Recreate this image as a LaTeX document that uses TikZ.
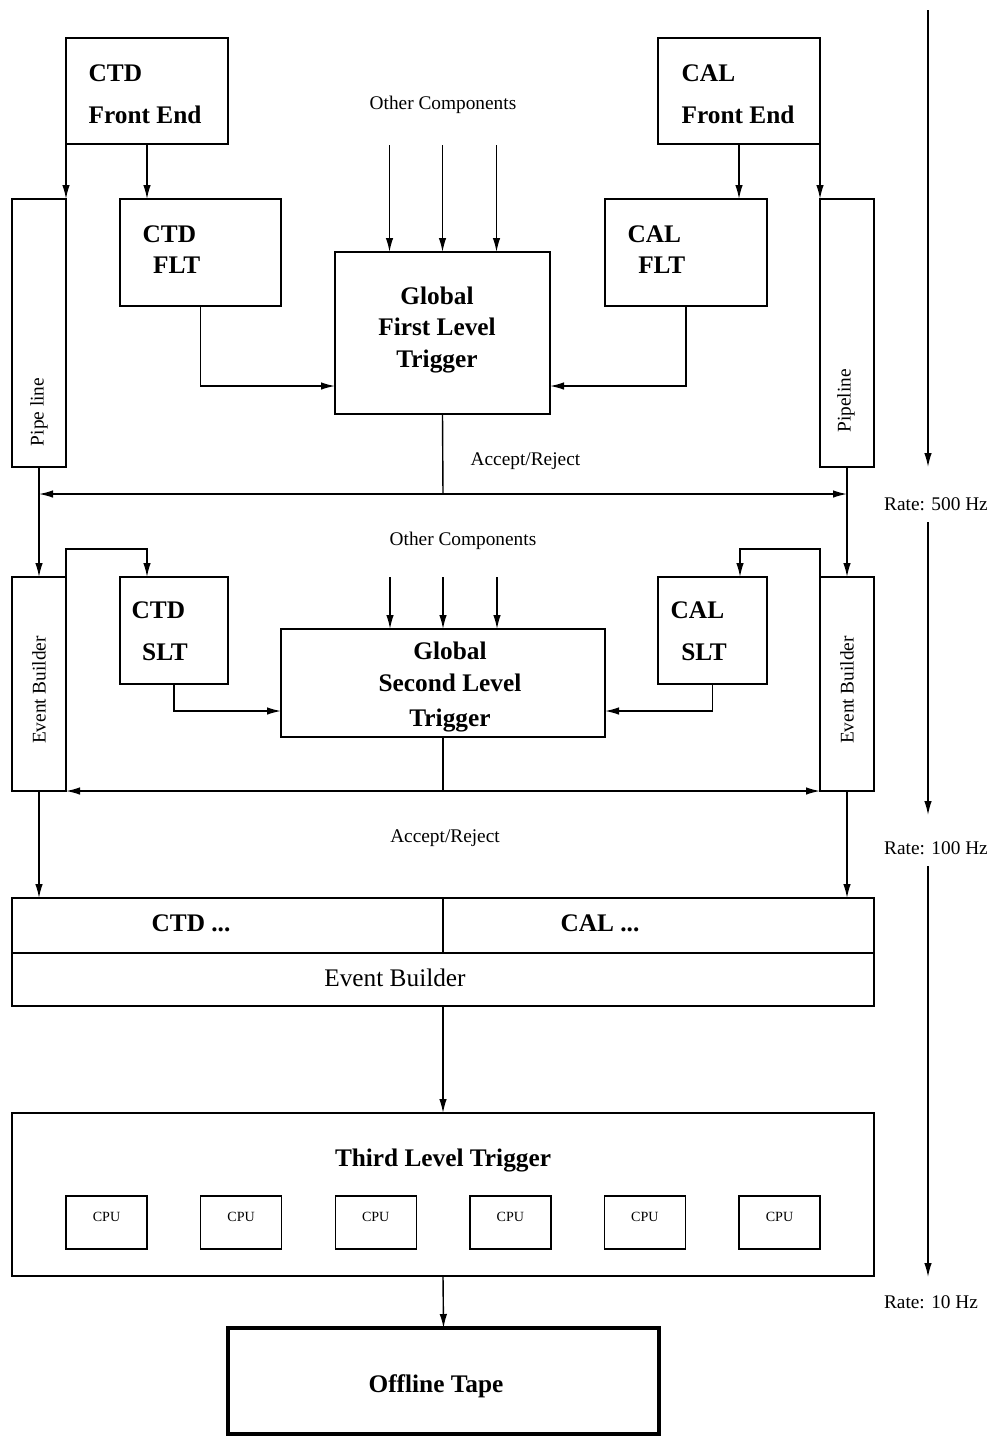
\documentclass[tikz,border=0pt]{standalone}
\usepackage{fontspec}
\setmainfont{Liberation Serif}
\usepackage{tikz}
\usetikzlibrary{arrows.meta,positioning,calc}

\begin{document}
\begin{tikzpicture}[x=0.2mm,y=-0.2mm,line width=.8pt,>={Latex[length=2.8mm,width=1.5mm]},
  bx/.style 2 args={draw,inner sep=0pt,outer sep=0pt,minimum width=#1*0.2mm,minimum height=#2*0.2mm},
  hd/.style={font=\fontsize{14.4}{18}\selectfont\bfseries,align=left,inner sep=0pt},
  lab/.style={font=\fontsize{11}{13}\selectfont,inner sep=0pt}]
\useasboundingbox (0,0) rectangle (995,1436);
% first level
\node[bx={162}{106}] (ctdfe) at (147,91) {};
\node[hd,anchor=west] (ctdfet) at (88,94) {CTD\\[6pt]Front End};
\node[bx={162}{106}] (calfe) at (739,91) {};
\node[hd,anchor=west] (calfet) at (681,94) {CAL\\[6pt]Front End};
\node[bx={161}{107}] (ctdflt) at (200.5,252.5) {};
\node[hd,anchor=west] (ctdfltt) at (142,249.5) {CTD\\\hspace{6pt}FLT};
\node[bx={162}{107}] (calflt) at (686,252.5) {};
\node[hd,anchor=west] (calfltt) at (627,249.5) {CAL\\\hspace{6pt}FLT};
\node[bx={54}{268}] (pipel) at (39,333) {};
\node[lab,rotate=90] (pipelt) at (39,412) {Pipe line};
\node[bx={54}{268}] (piper) at (847,333) {};
\node[lab,rotate=90] (pipert) at (846,401) {Pipeline};
\node[bx={215}{162}] (gflt) at (442.5,333) {};
\node[hd,align=center] (gfltt) at (437,330) {Global\\First Level\\Trigger};
\node[lab] (oc1) at (443,105) {Other Components};
\foreach \dx in {-53,0,54}\draw[->] ($(gflt.north)+(\dx,-107)$)--($(gflt.north)+(\dx,0)$);
\draw[->] (ctdfe.south west)--(pipel.north east);
\draw[->] (ctdfe.south)--(ctdfe.south |- ctdflt.north);
\draw[->] (calfe.south east)--(piper.north west);
\draw[->] (calfe.south)--(calfe.south |- calflt.north);
\draw[->] (ctdflt.south) |- ($(gflt.south west)+(0,-28)$);
\draw[->] (calflt.south) |- ($(gflt.south east)+(0,-28)$);
\coordinate (ar1) at (443,494);
\node[lab,anchor=west] (acc1) at (470,461) {Accept/Reject};
\draw (gflt.south)--(ar1);
\draw[->] (ar1)--(pipel.south |- ar1);
\draw[->] (ar1)--(piper.south |- ar1);
% second level
\node[bx={54}{214}] (ebl) at (39,684) {};
\node[lab,rotate=90] (eblt) at (39,690) {Event Builder};
\node[bx={54}{214}] (ebr) at (847,684) {};
\node[lab,rotate=90] (ebrt) at (847,690) {Event Builder};
\draw[->] (pipel.south)--(ebl.north);
\draw[->] (piper.south)--(ebr.north);
\node[bx={108}{107}] (ctdslt) at (174,630.5) {};
\node[hd,anchor=west] (ctdsltt) at (131,631.5) {CTD\\[6pt]\hspace{6pt}SLT};
\node[bx={109}{107}] (calslt) at (712.5,630.5) {};
\node[hd,anchor=west] (calsltt) at (670,631.5) {CAL\\[6pt]\hspace{6pt}SLT};
\node[bx={324}{108}] (gslt) at (443,683) {};
\node[hd,align=center] (gsltt) at (450,687) {Global\\Second Level\\[2pt]Trigger};
\node[lab] (oc2) at (463,541) {Other Components};
\foreach \dx in {-53,0,54}\draw[->] ($(gslt.north)+(\dx,-52)$)--($(gslt.north)+(\dx,0)$);
\draw[->] (ebl.north east)--++(0,-28)-|($(ctdslt.north west)+(27,0)$);
\draw[->] (ebr.north west)--++(0,-28)-|($(calslt.north east)+(-27,0)$);
\draw[->] (ctdslt.south) |- ($(gslt.south west)+(0,-26)$);
\draw[->] (calslt.south) |- ($(gslt.south east)+(0,-26)$);
\coordinate (ar2) at (443,791);
\draw (gslt.south)--(ar2);
\draw[->] (ar2)--(ebl.south east);
\draw[->] (ar2)--(ebr.south west);
\node[lab] (acc2) at (445,838) {Accept/Reject};
% event builder
\node[bx={431}{55}] (ctdcell) at (227.5,925.5) {};
\node[hd] (ctdcellt) at (191,923) {CTD ...};
\node[bx={431}{55}] (calcell) at (658.5,925.5) {};
\node[hd] (calcellt) at (600,923) {CAL ...};
\node[bx={862}{53}] (evb) at (443,979.5) {};
\node[font=\fontsize{14.4}{18}\selectfont,inner sep=0pt] (evbt) at (395,978) {Event Builder};
\draw[->] (ebl.south)--(ebl.south |- ctdcell.north);
\draw[->] (ebr.south)--(ebr.south |- calcell.north);
% third level
\node[bx={862}{163}] (tlt) at (443,1194.5) {};
\node[hd] (tltt) at (443,1160) {Third Level Trigger};
\foreach \i in {0,...,5}\node[bx={81}{53},font=\footnotesize,text depth=6pt] (cpu\i) at (106.5+134.6*\i,1222.5) {CPU};
\draw[->] (evb.south)--(tlt.north);
\node[bx={431}{106},line width=2.4pt] (tape) at (443.5,1381) {};
\node[hd] (tapet) at (436,1386) {Offline Tape};
\draw[->] (tlt.south)--(tape.north);
% rates
\coordinate (r0) at (928,10);
\coordinate (r1) at (928,467);
\node[lab] (rate1) at (936,504) {Rate: 500 Hz};
\coordinate (r2) at (928,522);
\coordinate (r3) at (928,815);
\node[lab] (rate2) at (936,848) {Rate: 100 Hz};
\coordinate (r4) at (928,866);
\coordinate (r5) at (928,1277);
\node[lab] (rate3) at (931,1302) {Rate: 10 Hz};
\draw[->] (r0)--(r1);
\draw[->] (r2)--(r3);
\draw[->] (r4)--(r5);
\end{tikzpicture}
\end{document}
